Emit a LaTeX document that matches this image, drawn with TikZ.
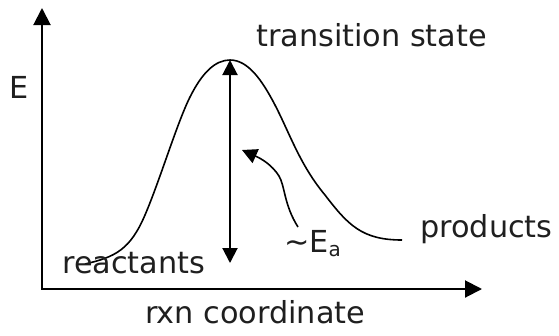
\documentclass[tikz,border=0pt]{standalone}
\usepackage{fontspec}
\setmainfont{DejaVu Sans}
\usetikzlibrary{arrows.meta}
\tikzset{
  axis/.style={line width=2pt, -{Triangle[length=17pt,width=17pt]}},
  curveline/.style={line width=1.6pt},
  measure/.style={line width=2pt, {Triangle[length=15pt,width=15pt]}-{Triangle[length=15pt,width=15pt]}},
  pointer/.style={line width=1.6pt, -{Triangle[length=15pt,width=15pt]}},
  lbl/.style={inner sep=0pt, anchor=base west, text=black!88, font=\fontsize{30.3}{34}\selectfont}
}
\begin{document}
\begin{tikzpicture}[x=1pt,y=-1pt]
\useasboundingbox (0,0) rectangle (559,335);
% axes
\coordinate (origin) at (42,289);
\coordinate (ytip) at (42,8);
\coordinate (xtip) at (482,289);
\draw[axis] (origin) -- (ytip);
\draw[axis] ([xshift=-1pt]origin) -- (xtip);
% energy curve
\coordinate (start) at (85,264);
\coordinate (ts) at (230,60);
\coordinate (finish) at (402,240);
\draw[curveline] (start) .. controls (115,257) and (130,250) .. (145,215)
  .. controls (160,180) and (177,123) .. (190,97)
  .. controls (202,73) and (215,60) .. (ts)
  .. controls (248,60) and (262,80) .. (275,105)
  .. controls (290,134) and (300,165) .. (325,195)
  .. controls (348,225) and (362,240) .. (finish);
% activation energy arrow
\coordinate (base) at (230,263);
\draw[measure] (base) -- (ts);
% pointer
\coordinate (pstart) at (298,227);
\coordinate (pend) at (242,150);
\draw[pointer] (pstart) .. controls (284,205) and (285,186) .. (279,176) .. controls (272,165) and (262,159) .. (pend);
% labels
\node[lbl] (E) at (9,98.5) {E};
\node[lbl] (tslabel) at (256,46.5) {transition state};
\node[lbl] (react) at (62,273) {reactants};
\node[lbl] (prod) at (420,237) {products};
\node[lbl] (xlabel) at (145,323) {rxn coordinate};
\node[lbl] (ea) at (284,252) {\char`\~E{\fontsize{20}{20}\selectfont\raisebox{-4.5pt}{a}}};
\end{tikzpicture}
\end{document}
